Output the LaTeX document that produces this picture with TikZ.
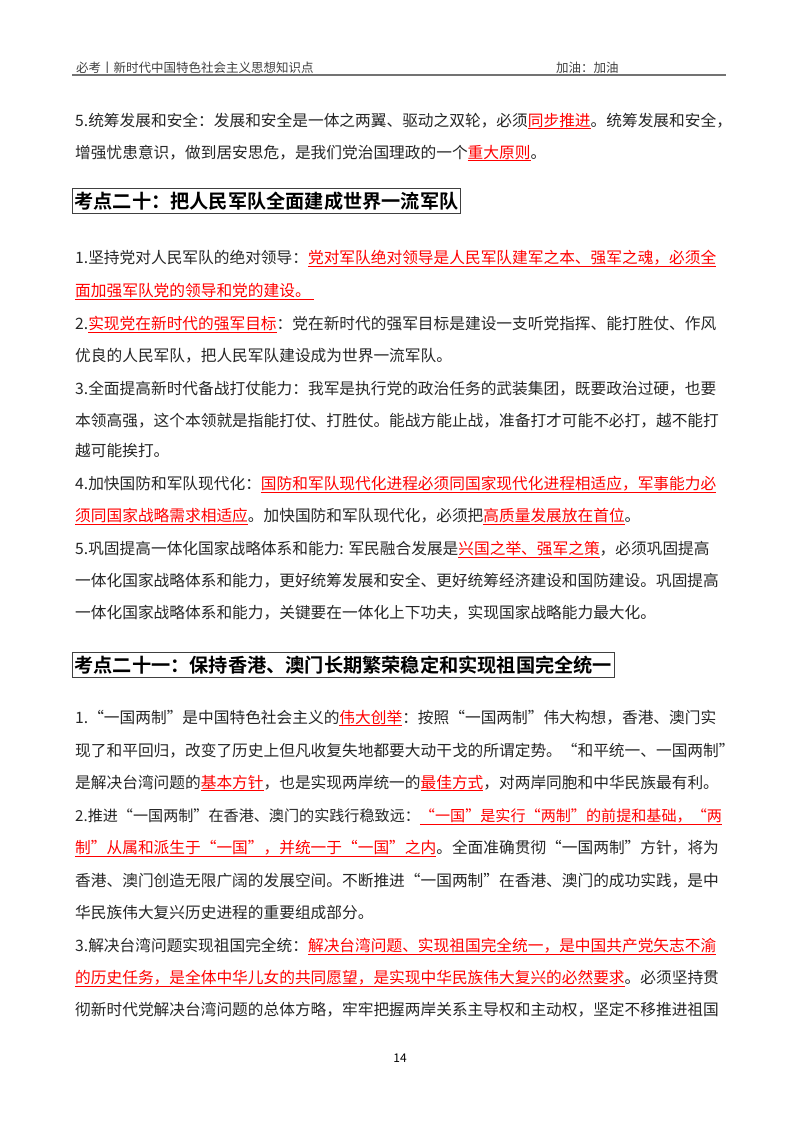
\documentclass[tikz,border=0pt]{standalone}
\usepackage{fontspec}
\setmainfont{Noto Sans CJK SC}[BoldFont={Noto Sans CJK SC Bold}]
\newcommand\hl[1]{{\color{red}\underline{#1}}}
\begin{document}
\begin{tikzpicture}[x=1pt,y=-1pt,
  ln/.style={anchor=base west,inner sep=0pt,font=\fontsize{15.7}{18}\selectfont,text=black!85},
  hd/.style={anchor=west,draw=black!75,line width=0.8pt,inner xsep=2pt,inner ysep=3pt,font=\fontsize{19.2}{21}\bfseries\selectfont}]
\useasboundingbox[fill=white] (0,0) rectangle (800,1132);
\node[anchor=base west,inner sep=0pt,font=\fontsize{12.5}{14}\selectfont,text=black!75] (h1) at (76,72) {必考丨新时代中国特色社会主义思想知识点};
\node[anchor=base west,inner sep=0pt,font=\fontsize{12.5}{14}\selectfont,text=black!75] (h2) at (556,72) {加油：加油};
\draw[black!55,line width=2pt] (72,74.5) -- (726,74.5);
\node[ln] (a1) at (75,126) {5.统筹发展和安全：发展和安全是一体之两翼、驱动之双轮，必须\hl{同步推进}。统筹发展和安全，};
\node[ln] (a2) at (75,158) {增强忧患意识，做到居安思危，是我们党治国理政的一个\hl{重大原则}。};
\node[hd] (k1) at (72,201) {考点二十：把人民军队全面建成世界一流军队};
\node[ln] (b1) at (75,263) {1.坚持党对人民军队的绝对领导：\hl{党对军队绝对领导是人民军队建军之本、强军之魂，必须全}};
\node[ln] (b2) at (75,296) {\hl{面加强军队党的领导和党的建设。\ }};
\node[ln] (b3) at (75,329) {2.\hl{实现党在新时代的强军目标}：党在新时代的强军目标是建设一支听党指挥、能打胜仗、作风};
\node[ln] (b4) at (75,361) {优良的人民军队，把人民军队建设成为世界一流军队。};
\node[ln] (b5) at (75,394) {3.全面提高新时代备战打仗能力：我军是执行党的政治任务的武装集团，既要政治过硬，也要};
\node[ln] (b6) at (75,426) {本领高强，这个本领就是指能打仗、打胜仗。能战方能止战，准备打才可能不必打，越不能打};
\node[ln] (b7) at (75,456) {越可能挨打。};
\node[ln] (b8) at (75,489) {4.加快国防和军队现代化：\hl{国防和军队现代化进程必须同国家现代化进程相适应，军事能力必}};
\node[ln] (b9) at (75,521) {\hl{须同国家战略需求相适应}。加快国防和军队现代化，必须把\hl{高质量发展放在首位}。};
\node[ln] (b10) at (75,554) {5.巩固提高一体化国家战略体系和能力: 军民融合发展是\hl{兴国之举、强军之策}，必须巩固提高};
\node[ln] (b11) at (75,586) {一体化国家战略体系和能力，更好统筹发展和安全、更好统筹经济建设和国防建设。巩固提高};
\node[ln] (b12) at (75,618) {一体化国家战略体系和能力，关键要在一体化上下功夫，实现国家战略能力最大化。};
\node[hd] (k2) at (72,665) {考点二十一：保持香港、澳门长期繁荣稳定和实现祖国完全统一};
\node[ln] (c1) at (75,723) {1.“一国两制”是中国特色社会主义的\hl{伟大创举}：按照“一国两制”伟大构想，香港、澳门实};
\node[ln] (c2) at (75,756) {现了和平回归，改变了历史上但凡收复失地都要大动干戈的所谓定势。“和平统一、一国两制”};
\node[ln] (c3) at (75,788) {是解决台湾问题的\hl{基本方针}，也是实现两岸统一的\hl{最佳方式}，对两岸同胞和中华民族最有利。};
\node[ln,font=\fontsize{15.1}{18}\selectfont] (c4) at (75,821) {2.推进“一国两制”在香港、澳门的实践行稳致远：\hl{“一国”是实行“两制”的前提和基础，“两}};
\node[ln] (c5) at (75,853) {\hl{制”从属和派生于“一国”，并统一于“一国”之内}。全面准确贯彻“一国两制”方针，将为};
\node[ln] (c6) at (75,886) {香港、澳门创造无限广阔的发展空间。不断推进“一国两制”在香港、澳门的成功实践，是中};
\node[ln] (c7) at (75,918) {华民族伟大复兴历史进程的重要组成部分。};
\node[ln] (c8) at (75,951) {3.解决台湾问题实现祖国完全统：\hl{解决台湾问题、实现祖国完全统一，是中国共产党矢志不渝}};
\node[ln] (c9) at (75,983) {\hl{的历史任务，是全体中华儿女的共同愿望，是实现中华民族伟大复兴的必然要求}。必须坚持贯};
\node[ln] (c10) at (75,1015) {彻新时代党解决台湾问题的总体方略，牢牢把握两岸关系主导权和主动权，坚定不移推进祖国};
\node[anchor=base,inner sep=0pt,font=\fontsize{12}{14}\selectfont] (pg) at (400,1062) {14};
\end{tikzpicture}
\end{document}
